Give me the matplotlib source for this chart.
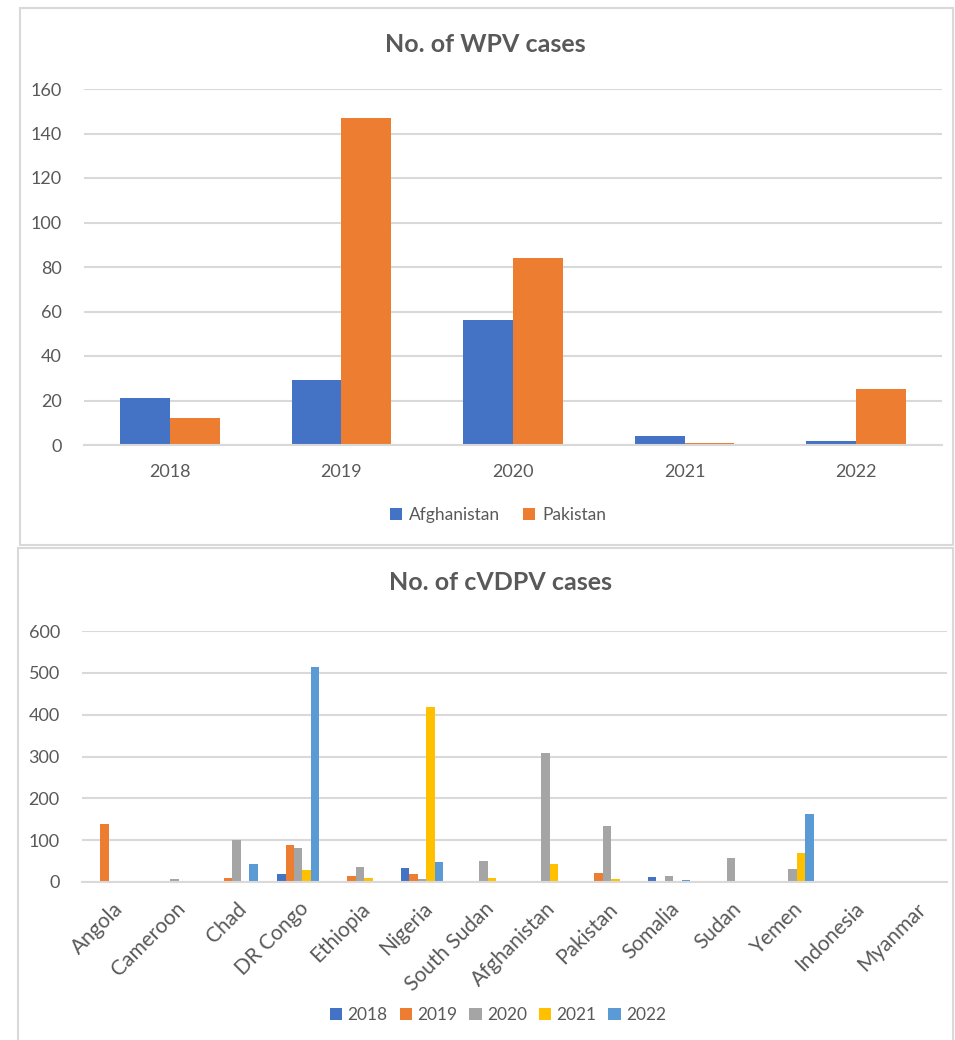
import numpy as np
import matplotlib
matplotlib.use("Agg")
import matplotlib.pyplot as plt
from matplotlib.patches import Rectangle

plt.rcParams['font.family'] = ['Lato', 'DejaVu Sans']

TXT = '#595959'
GRID = '#d9d9d9'

# WPV data
years = ['2018', '2019', '2020', '2021', '2022']
wpv_afghanistan = [21, 29, 56, 4, 2]
wpv_pakistan = [12, 147, 84, 1, 25]

# cVDPV data
countries = ['Angola', 'Cameroon', 'Chad', 'DR Congo', 'Ethiopia', 'Nigeria',
             'South Sudan', 'Afghanistan', 'Pakistan', 'Somalia', 'Sudan',
             'Yemen', 'Indonesia', 'Myanmar']
cv_2018 = [0, 0, 0, 20, 0, 34, 0, 0, 0, 12, 0, 0, 0, 0]
cv_2019 = [138, 0, 10, 88, 15, 18, 0, 0, 22, 0, 0, 0, 0, 3]
cv_2020 = [0, 7, 101, 81, 37, 8, 50, 308, 135, 14, 58, 31, 0, 0]
cv_2021 = [0, 0, 0, 28, 10, 418, 9, 43, 8, 0, 0, 70, 0, 0]
cv_2022 = [0, 0, 44, 514, 0, 48, 0, 0, 0, 5, 0, 162, 0, 0]
cv_series = [cv_2018, cv_2019, cv_2020, cv_2021, cv_2022]
cv_colors = ['#4472C4', '#ED7D31', '#A5A5A5', '#FFC000', '#5B9BD5']

fig = plt.figure(figsize=(9.55, 10.4), dpi=100)

# panel borders
fig.patches.append(Rectangle((20/955, 1-545/1040), 933/955, 537/1040, transform=fig.transFigure,
                             fill=False, edgecolor=GRID, linewidth=1.5))
fig.patches.append(Rectangle((18/955, 1-1045/1040), 935/955, 497/1040, transform=fig.transFigure,
                             fill=False, edgecolor=GRID, linewidth=1.5))


def style_axis(ax):
    for s in ['top', 'right', 'left']:
        ax.spines[s].set_visible(False)
    ax.spines['bottom'].set_color(GRID)
    ax.spines['bottom'].set_linewidth(1.5)
    ax.grid(axis='y', color=GRID, linewidth=1.5)
    ax.set_axisbelow(True)
    ax.tick_params(length=0, colors=TXT, labelsize=13)


# top chart
ax1 = fig.add_axes([84/955, 1-445/1040, 858/955, 356/1040])
x = np.arange(len(years))
w = 0.29
ax1.bar(x - w/2, wpv_afghanistan, w, color='#4472C4', label='Afghanistan')
ax1.bar(x + w/2, wpv_pakistan, w, color='#ED7D31', label='Pakistan')
ax1.set_xlim(-0.5, 4.5)
ax1.set_ylim(0, 160)
ax1.set_yticks(range(0, 161, 20))
ax1.set_xticks(x)
ax1.set_xticklabels(years)
style_axis(ax1)
ax1.tick_params(axis='x', pad=14)
ax1.tick_params(axis='y', pad=16)
fig.text(485/955, 1-45/1040, 'No. of WPV cases', ha='center', va='center',
         fontsize=18, fontweight='bold', color=TXT)
ax1.legend(loc='center', bbox_to_anchor=(498/955, 1-515/1040), bbox_transform=fig.transFigure,
           ncol=2, frameon=False, fontsize=12.5, labelcolor=TXT, handlelength=0.7,
           handleheight=0.7, handletextpad=0.4, columnspacing=1.3)

# bottom chart
ax2 = fig.add_axes([82/955, 1-882/1040, 865/955, 251/1040])
xc = np.arange(len(countries))
bw = 0.1375
for i, (vals, col, yr) in enumerate(zip(cv_series, cv_colors, years)):
    ax2.bar(xc + (i - 2) * bw, vals, bw, color=col, label=yr)
ax2.set_xlim(-0.5, len(countries) - 0.5)
ax2.set_ylim(0, 600)
ax2.set_yticks(range(0, 601, 100))
ax2.set_xticks(xc)
ax2.set_xticklabels(countries, rotation=45, ha='right', rotation_mode='anchor')
style_axis(ax2)
ax2.tick_params(axis='x', pad=12, labelsize=15)
ax2.tick_params(axis='y', pad=16)
fig.text(500/955, 1-583/1040, 'No. of cVDPV cases', ha='center', va='center',
         fontsize=18, fontweight='bold', color=TXT)
ax2.legend(loc='center', bbox_to_anchor=(498/955, 1-1015/1040), bbox_transform=fig.transFigure,
           ncol=5, frameon=False, fontsize=12.5, labelcolor=TXT, handlelength=0.7,
           handleheight=0.7, handletextpad=0.3, columnspacing=0.7)

fig.savefig('out.png', dpi=100)
